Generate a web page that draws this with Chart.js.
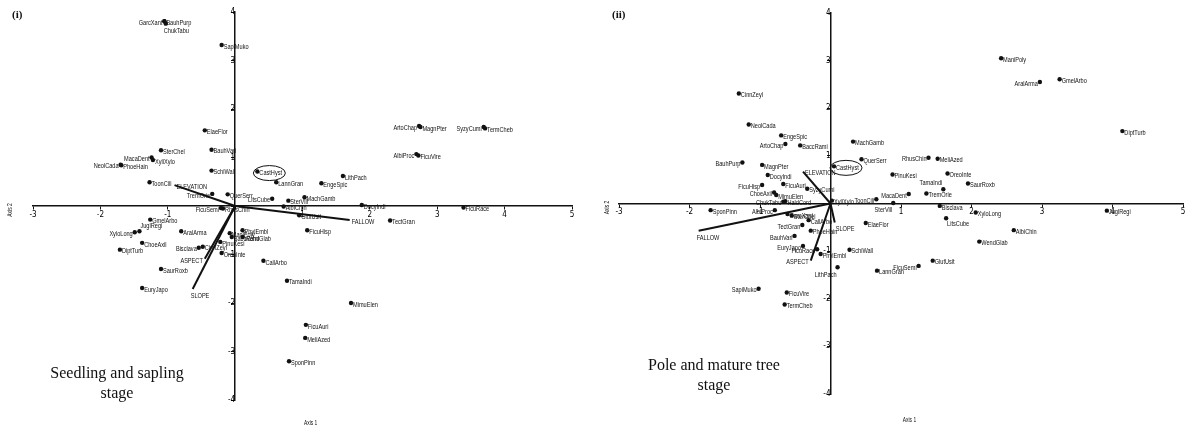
<!DOCTYPE html>
<html>
<head>
<meta charset="utf-8">
<script src="https://cdn.jsdelivr.net/npm/chart.js@4/dist/chart.umd.min.js"></script>
<style>
  html, body { margin: 0; padding: 0; background: #fff; }
  #wrap { position: relative; width: 1193px; height: 432px; }
  canvas { position: absolute; top: 0; }
  #seedCanvas { left: 0; }
  #poleCanvas { left: 597px; }
</style>
</head>
<body>
<div id="wrap">
  <canvas id="seedCanvas" width="597" height="432"></canvas>
  <canvas id="poleCanvas" width="596" height="432"></canvas>
</div>
<script>
// axis ranges / ticks
const axis1Range = [-3, 5];
const axis2Range = [-4, 4];

// (i) seedling and sapling stage - species scores
const seedNames = ['GarcXant', 'BauhPurp', 'ChukTabu', 'SapiMuko', 'ElaeFlor', 'BauhVari', 'SterChel', 'MacaDent',
    'XyliXylo', 'NeolCada', 'PhoeHain', 'SchiWall', 'ToonCili', 'TremOrie', 'QuerSerr', 'FicuSemi', 'RhusChin',
    'GmelArbo', 'JuglRegi', 'XyloLong', 'AralArma', 'ManiPoly', 'ChoeAxil', 'DiptTurb', 'Bisclava', 'CinnZeyl',
    'SaurRoxb', 'EuryJapo', 'OreoInte', 'PinuKesi', 'PhylEmbl', 'BaccRami', 'WendGlab', 'CastHyst', 'LannGran',
    'EngeSpic', 'LithPach', 'LitsCube', 'MachGamb', 'SterVill', 'AlbiChin', 'GlutUsit', 'DocyIndi', 'FicuHisp',
    'CallArbo', 'TamaIndi', 'ArtoChap', 'MagnPter', 'SyzyCumi', 'TermCheb', 'AlbiProc', 'FicuVire', 'TectGran',
    'FicuRace', 'MimuElen', 'FicuAuri', 'MeliAzed', 'SponPinn'];
const seedAxis1 = [-1.05, -1.05, -1.03, -0.20, -0.45, -0.35, -1.10, -1.24,
    -1.22, -1.70, -1.69, -0.35, -1.27, -0.34, -0.11, -0.21, -0.18,
    -1.26, -1.42, -1.49, -0.80, -0.08, -1.38, -1.71, -0.54, -0.48,
    -1.10, -1.38, -0.20, -0.22, 0.11, -0.05, 0.11, 0.33, 0.61,
    1.28, 1.60, 0.55, 1.03, 0.79, 0.72, 0.95, 1.88, 1.07,
    0.42, 0.77, 2.73, 2.75, 3.69, 3.71, 2.69, 2.72, 2.30,
    3.39, 1.72, 1.05, 1.04, 0.80];
const seedAxis2 = [3.81, 3.81, 3.76, 3.32, 1.56, 1.16, 1.15, 1.00,
    0.95, 0.85, 0.84, 0.73, 0.49, 0.25, 0.24, -0.04, -0.05,
    -0.28, -0.52, -0.54, -0.52, -0.56, -0.76, -0.90, -0.86, -0.84,
    -1.30, -1.69, -0.97, -0.74, -0.50, -0.64, -0.64, 0.71, 0.49,
    0.47, 0.62, 0.15, 0.18, 0.11, -0.01, -0.19, 0.02, -0.50,
    -1.13, -1.54, 1.65, 1.63, 1.63, 1.60, 1.07, 1.04, -0.30,
    -0.03, -2.00, -2.45, -2.72, -3.20];

// (ii) pole and mature tree stage - species scores
const poleNames = ['CinnZeyl', 'NeolCada', 'EngeSpic', 'ArtoChap', 'BaccRami', 'MachGamb', 'QuerSerr', 'CastHyst',
    'BauhPurp', 'MagnPter', 'DocyIndi', 'FicuHisp', 'FicuAuri', 'ChoeAxil', 'SyzyCumi', 'MimuElen', 'ChukTabu',
    'HaldCord', 'SponPinn', 'AlbiProc', 'GarcXant', 'SterChel', 'TectGran', 'CallArbo', 'BauhVari', 'PhoeHain',
    'EuryJapo', 'FicuRace', 'PhylEmbl', 'SchiWall', 'LithPach', 'ElaeFlor', 'SapiMuko', 'FicuVire', 'TermCheb',
    'XyliXylo', 'ToonCili', 'SterVill', 'MacaDent', 'PinuKesi', 'LannGran', 'RhusChin', 'MeliAzed', 'OreoInte',
    'TamaIndi', 'SaurRoxb', 'TremOrie', 'Bisclava', 'LitsCube', 'XyloLong', 'AlbiChin', 'WendGlab', 'FicuSemi',
    'GlutUsit', 'ManiPoly', 'AralArma', 'GmelArbo', 'DiptTurb', 'JuglRegi'];
const poleAxis1 = [-1.30, -1.16, -0.70, -0.64, -0.43, 0.32, 0.44, 0.05,
    -1.25, -0.97, -0.89, -0.97, -0.67, -0.80, -0.33, -0.77, -0.67,
    -0.64, -1.70, -0.79, -0.61, -0.55, -0.40, -0.31, -0.51, -0.28,
    -0.39, -0.19, -0.14, 0.27, 0.10, 0.50, -1.02, -0.62, -0.65,
    0.02, 0.65, 0.89, 1.11, 0.88, 0.66, 1.39, 1.52, 1.66,
    1.60, 1.95, 1.36, 1.55, 1.64, 2.06, 2.60, 2.11, 1.25,
    1.45, 2.42, 2.97, 3.25, 4.14, 3.92];
const poleAxis2 = [2.31, 1.66, 1.43, 1.25, 1.22, 1.30, 0.93, 0.78,
    0.86, 0.81, 0.60, 0.39, 0.41, 0.23, 0.31, 0.18, 0.04,
    0.05, -0.14, -0.14, -0.22, -0.25, -0.45, -0.35, -0.68, -0.57,
    -0.89, -0.96, -1.06, -0.97, -1.34, -0.41, -1.79, -1.87, -2.12,
    0.06, 0.09, 0.01, 0.20, 0.61, -1.41, 0.96, 0.94, 0.63,
    0.30, 0.42, 0.21, -0.05, -0.31, -0.19, -0.56, -0.80, -1.31,
    -1.20, 3.05, 2.55, 2.61, 1.52, -0.15];

// environmental vectors (biplot arrows)
const envNames = ['ELEVATION', 'SLOPE', 'ASPECT', 'FALLOW'];
const seedEnvAxis1 = [-0.90, -0.63, -0.45, 1.70];
const seedEnvAxis2 = [0.43, -1.71, -1.09, -0.29];
const poleEnvAxis1 = [-0.39, 0.06, -0.28, -1.87];
const poleEnvAxis2 = [0.67, -0.40, -1.20, -0.57];

const labelFont = '"Liberation Sans", Arial, sans-serif';
const squeeze = 0.7;

// condensed text: the labels in the figure use a narrow face
const narrowText = (ctx, text, x, y, align) => {
    const w = ctx.measureText(text).width * squeeze;
    let left = x;
    if (align === 'right') left = x - w;
    if (align === 'center') left = x - w / 2;
    ctx.save();
    ctx.translate(left, y);
    ctx.scale(squeeze, 1);
    ctx.textAlign = 'left';
    ctx.fillText(text, 0, 0);
    ctx.restore();
};

const placeLabel = (ctx, text, x, y, where) => {
    let tx = x + 2;
    let ty = y + 1.5;
    let align = 'left';
    if (where === 'l') { tx = x - 2; align = 'right'; }
    if (where === 'al') { tx = x - 1; ty = y - 6; align = 'right'; }
    if (where === 'bl') { tx = x - 1; ty = y + 7; align = 'right'; }
    if (where === 'b') { tx = x - 2; ty = y + 7; }
    if (where === 'br') { tx = x + 1; ty = y + 6; }
    if (where === 'ar') { tx = x + 1; ty = y - 5; }
    narrowText(ctx, text, tx, ty, align);
};

const ordLabels = {
    id: 'ordLabels',
    afterDatasetsDraw(chart, args, opts) {
        const ctx = chart.ctx;
        ctx.save();
        ctx.fillStyle = '#111';
        ctx.textBaseline = 'middle';
        ctx.font = `8px ${labelFont}`;
        chart.data.datasets.forEach((ds, i) => {
            const meta = chart.getDatasetMeta(i);
            if (ds.envName) {
                const end = meta.data[1];
                placeLabel(ctx, ds.envName, end.x, end.y, opts.envPlace[ds.envName] || 'r');
                return;
            }
            meta.data.forEach((pt, j) => {
                const name = ds.names[j];
                placeLabel(ctx, name, pt.x, pt.y, opts.place[name] || 'r');
                if (name === 'CastHyst') {
                    ctx.beginPath();
                    ctx.lineWidth = 1;
                    ctx.strokeStyle = '#111';
                    ctx.ellipse(pt.x + 12, pt.y + 1.5, 16, 7.5, 0, 0, Math.PI * 2);
                    ctx.stroke();
                }
            });
        });

        // panel captions and axis titles
        const area = chart.chartArea;
        ctx.textAlign = 'left';
        ctx.font = 'bold 11px "Liberation Serif", serif';
        ctx.fillText(opts.panel, opts.panelX, 15);
        ctx.textAlign = 'center';
        ctx.font = '16px "Liberation Serif", serif';
        ctx.fillText(opts.stage[0], opts.stageX, opts.stageY);
        ctx.fillText(opts.stage[1], opts.stageX, opts.stageY + 20);
        ctx.font = `7px ${labelFont}`;
        narrowText(ctx, 'Axis 1', area.left + area.width * 0.515, area.bottom + opts.axis1Gap, 'center');
        ctx.save();
        ctx.translate(10, (area.top + area.bottom) / 2 + 4);
        ctx.rotate(-Math.PI / 2);
        narrowText(ctx, 'Axis 2', 0, 0, 'center');
        ctx.restore();
        ctx.restore();
    }
};

const buildDatasets = (names, xs, ys, envX, envY) => {
    const sets = [{
        names,
        data: names.map((n, i) => ({ x: xs[i], y: ys[i] })),
        pointRadius: 2.2,
        pointBackgroundColor: '#111',
        pointBorderWidth: 0,
        showLine: false,
    }];
    envNames.forEach((name, i) => {
        sets.push({
            envName: name,
            data: [{ x: 0, y: 0 }, { x: envX[i], y: envY[i] }],
            showLine: true,
            borderColor: '#111',
            borderWidth: 2,
            pointRadius: 0,
        });
    });
    return sets;
};

const makeChart = (canvas, datasets, padding, labelOpts) => {
    const tickFont = { size: 8, family: '"Liberation Sans Narrow", "DejaVu Sans Condensed", sans-serif' };
    return new Chart(canvas.getContext('2d'), {
        type: 'scatter',
        data: { datasets },
        plugins: [ordLabels],
        options: {
            responsive: false,
            animation: false,
            layout: { padding },
            scales: {
                x: {
                    type: 'linear',
                    min: axis1Range[0],
                    max: axis1Range[1],
                    position: { y: 0 },
                    ticks: {
                        stepSize: 1,
                        color: '#000',
                        font: tickFont,
                        padding: 1,
                        callback: (v) => (v === 0 ? '' : v),
                    },
                    grid: { drawOnChartArea: false, tickLength: 3, color: '#111' },
                    border: { color: '#111', width: 1.5 },
                },
                y: {
                    type: 'linear',
                    min: axis2Range[0],
                    max: axis2Range[1],
                    position: { x: 0 },
                    ticks: {
                        stepSize: 1,
                        color: '#000',
                        font: tickFont,
                        padding: 1,
                        callback: (v) => (v === 0 ? '' : v),
                    },
                    grid: { drawOnChartArea: false, tickLength: 3, color: '#111' },
                    border: { color: '#111', width: 1.5 },
                },
            },
            plugins: {
                legend: { display: false },
                tooltip: { enabled: false },
                ordLabels: labelOpts,
            },
        },
    });
};

makeChart(
    document.getElementById('seedCanvas'),
    buildDatasets(seedNames, seedAxis1, seedAxis2, seedEnvAxis1, seedEnvAxis2),
    { left: 33, right: 25, top: 12, bottom: 32 },
    {
        panel: '(i)',
        panelX: 12,
        stage: ['Seedling and sapling', 'stage'],
        stageX: 117,
        stageY: 374,
        axis1Gap: 23,
        place: {
            GarcXant: 'l', ChukTabu: 'b', MacaDent: 'l', NeolCada: 'l', FicuSemi: 'l', XyloLong: 'l',
            JuglRegi: 'ar', TremOrie: 'l', Bisclava: 'l', LitsCube: 'l', ArtoChap: 'l', SyzyCumi: 'l',
            AlbiProc: 'l',
        },
        envPlace: { ELEVATION: 'r', SLOPE: 'b', ASPECT: 'l', FALLOW: 'r' },
    }
);

makeChart(
    document.getElementById('poleCanvas'),
    buildDatasets(poleNames, poleAxis1, poleAxis2, poleEnvAxis1, poleEnvAxis2),
    { left: 22, right: 10, top: 13, bottom: 38 },
    {
        panel: '(ii)',
        panelX: 15,
        stage: ['Pole and mature tree', 'stage'],
        stageX: 117,
        stageY: 366,
        axis1Gap: 26,
        place: {
            BauhPurp: 'l', ArtoChap: 'l', FicuHisp: 'l', ChoeAxil: 'l', ChukTabu: 'l', AlbiProc: 'l',
            TectGran: 'l', BauhVari: 'l', EuryJapo: 'l', SapiMuko: 'l', ToonCili: 'l', SterVill: 'bl',
            MacaDent: 'l', RhusChin: 'l', TamaIndi: 'al', FicuSemi: 'l', AralArma: 'l', LithPach: 'bl',
            FicuRace: 'l', LitsCube: 'br',
        },
        envPlace: { ELEVATION: 'r', SLOPE: 'br', ASPECT: 'l', FALLOW: 'b' },
    }
);
</script>
</body>
</html>
